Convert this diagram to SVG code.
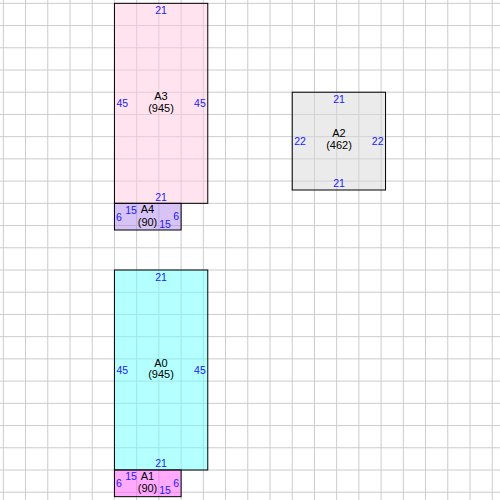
<svg xmlns="http://www.w3.org/2000/svg" width="500" height="500" viewBox="0 0 500 500">
<defs>
<style>
.grid line{stroke:#cccccc;stroke-width:1}
.box{stroke:#000;stroke-width:1;fill-opacity:0.5}
.dim{font-family:"Liberation Sans",Arial,sans-serif;font-size:10.5px;fill:#1a1aff}
.name{font-family:"Liberation Sans",Arial,sans-serif;font-size:11px;fill:#000;text-anchor:middle}
.c{text-anchor:middle}
.s{text-anchor:start}
.e{text-anchor:end}
</style>
</defs>
<rect x="0" y="0" width="500" height="500" fill="#fff"/>
<g class="grid">
<line x1="3.33" y1="0" x2="3.33" y2="500"/><line x1="25.56" y1="0" x2="25.56" y2="500"/><line x1="47.78" y1="0" x2="47.78" y2="500"/><line x1="70" y1="0" x2="70" y2="500"/><line x1="92.22" y1="0" x2="92.22" y2="500"/><line x1="114.44" y1="0" x2="114.44" y2="500"/><line x1="136.67" y1="0" x2="136.67" y2="500"/><line x1="158.89" y1="0" x2="158.89" y2="500"/><line x1="181.11" y1="0" x2="181.11" y2="500"/><line x1="203.33" y1="0" x2="203.33" y2="500"/><line x1="225.56" y1="0" x2="225.56" y2="500"/><line x1="247.78" y1="0" x2="247.78" y2="500"/><line x1="270" y1="0" x2="270" y2="500"/><line x1="292.22" y1="0" x2="292.22" y2="500"/><line x1="314.44" y1="0" x2="314.44" y2="500"/><line x1="336.67" y1="0" x2="336.67" y2="500"/><line x1="358.89" y1="0" x2="358.89" y2="500"/><line x1="381.11" y1="0" x2="381.11" y2="500"/><line x1="403.33" y1="0" x2="403.33" y2="500"/><line x1="425.56" y1="0" x2="425.56" y2="500"/><line x1="447.78" y1="0" x2="447.78" y2="500"/><line x1="470" y1="0" x2="470" y2="500"/><line x1="492.22" y1="0" x2="492.22" y2="500"/>
<line y1="3.33" x1="0" y2="3.33" x2="500"/><line y1="25.56" x1="0" y2="25.56" x2="500"/><line y1="47.78" x1="0" y2="47.78" x2="500"/><line y1="70" x1="0" y2="70" x2="500"/><line y1="92.22" x1="0" y2="92.22" x2="500"/><line y1="114.44" x1="0" y2="114.44" x2="500"/><line y1="136.67" x1="0" y2="136.67" x2="500"/><line y1="158.89" x1="0" y2="158.89" x2="500"/><line y1="181.11" x1="0" y2="181.11" x2="500"/><line y1="203.33" x1="0" y2="203.33" x2="500"/><line y1="225.56" x1="0" y2="225.56" x2="500"/><line y1="247.78" x1="0" y2="247.78" x2="500"/><line y1="270" x1="0" y2="270" x2="500"/><line y1="292.22" x1="0" y2="292.22" x2="500"/><line y1="314.44" x1="0" y2="314.44" x2="500"/><line y1="336.67" x1="0" y2="336.67" x2="500"/><line y1="358.89" x1="0" y2="358.89" x2="500"/><line y1="381.11" x1="0" y2="381.11" x2="500"/><line y1="403.33" x1="0" y2="403.33" x2="500"/><line y1="425.56" x1="0" y2="425.56" x2="500"/><line y1="447.78" x1="0" y2="447.78" x2="500"/><line y1="470" x1="0" y2="470" x2="500"/><line y1="492.22" x1="0" y2="492.22" x2="500"/>
</g>
<g id="A3">
<rect class="box" x="114.44" y="3.33" width="93.33" height="200" fill="#ffc8e0"/>
<text class="dim c" x="161" y="14">21</text>
<text class="dim c" x="161" y="200.5">21</text>
<text class="dim s" x="116.5" y="107">45</text>
<text class="dim e" x="205.8" y="107">45</text>
<text class="name" x="161" y="100">A3</text>
<text class="name" x="161" y="111.5">(945)</text>
</g>
<g id="A4">
<rect class="box" x="114.44" y="203.33" width="66.67" height="26.67" fill="#af87eb"/>
<text class="dim c" x="131" y="213.5">15</text>
<text class="dim c" x="165" y="227.5">15</text>
<text class="dim s" x="116" y="220.5">6</text>
<text class="dim e" x="179.2" y="220">6</text>
<text class="name" x="147.5" y="213">A4</text>
<text class="name" x="147.5" y="225.5">(90)</text>
</g>
<g id="A2">
<rect class="box" x="292.22" y="92.22" width="93.33" height="97.78" fill="#d7d7d7"/>
<text class="dim c" x="339" y="102.7">21</text>
<text class="dim c" x="339" y="187.3">21</text>
<text class="dim s" x="294.2" y="144.5">22</text>
<text class="dim e" x="383.5" y="144.5">22</text>
<text class="name" x="339" y="137">A2</text>
<text class="name" x="339" y="149">(462)</text>
</g>
<g id="A0">
<rect class="box" x="114.44" y="270" width="93.33" height="200" fill="#69ffff"/>
<text class="dim c" x="161" y="280.7">21</text>
<text class="dim c" x="161" y="467.2">21</text>
<text class="dim s" x="116.5" y="374">45</text>
<text class="dim e" x="205.8" y="374">45</text>
<text class="name" x="161" y="366.7">A0</text>
<text class="name" x="161" y="378.2">(945)</text>
</g>
<g id="A1">
<rect class="box" x="114.44" y="470" width="66.67" height="26.67" fill="#ff55ff"/>
<text class="dim c" x="131" y="480.2">15</text>
<text class="dim c" x="165" y="494.2">15</text>
<text class="dim s" x="116" y="487.2">6</text>
<text class="dim e" x="179.2" y="486.7">6</text>
<text class="name" x="147.5" y="479.7">A1</text>
<text class="name" x="147.5" y="492.2">(90)</text>
</g>
<g id="connectors"></g>
</svg>
